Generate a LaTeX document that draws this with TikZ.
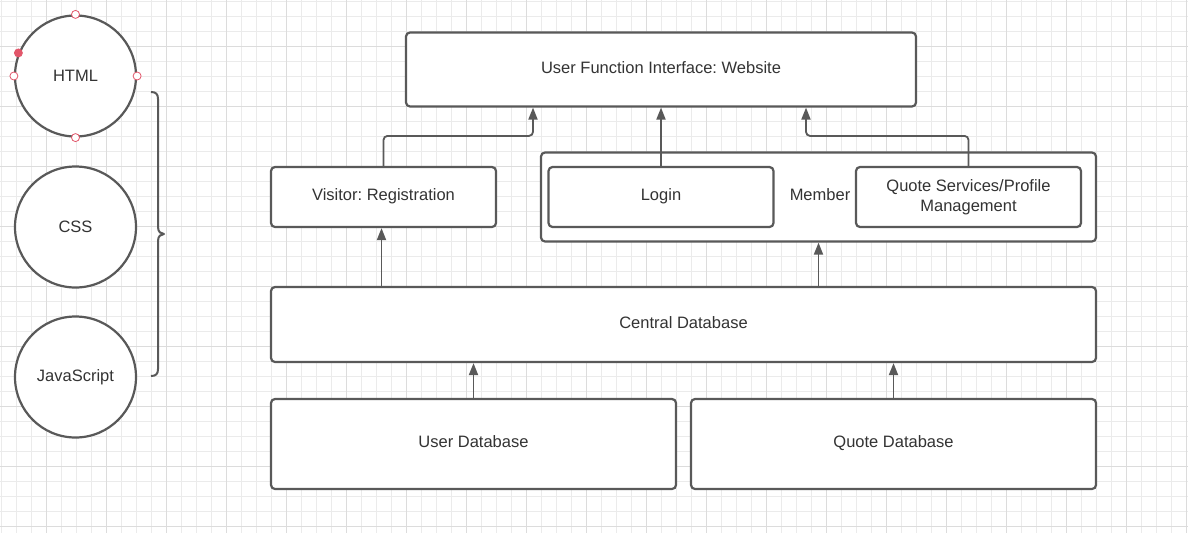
\documentclass[tikz,border=0pt]{standalone}
\usepackage{fontspec}
\setmainfont{Liberation Sans}
\usetikzlibrary{arrows.meta}
\definecolor{edgegray}{HTML}{595959}
\definecolor{textgray}{HTML}{333333}
\definecolor{gridminor}{HTML}{EBEBEB}
\definecolor{gridmajor}{HTML}{DCDCDC}
\definecolor{handlered}{HTML}{E2566A}
\frenchspacing

\begin{document}
\begin{tikzpicture}[x=1pt,y=-1pt,
    font=\fontsize{16.5}{20}\selectfont, text=textgray,
    box/.style={draw=edgegray, line width=2.2pt, rounded corners=4pt,
                fill=white, inner sep=0pt, text height=12pt, text depth=4.5pt},
    bubble/.style={draw=edgegray, line width=2.2pt, circle, fill=white,
                   minimum size=121pt, inner sep=0pt},
    handle/.style={draw=handlered, line width=0.8pt, circle, fill=white,
                   minimum size=8pt, inner sep=0pt},
    link/.style={draw=edgegray, line width=1.8pt, rounded corners=4pt,
                 -{Triangle[length=12pt,width=9pt]}}]
  \useasboundingbox (0,0) rectangle (1188,533);
  \fill[white] (0,0) rectangle (1188,533);

  % background grid
  \foreach \i in {0,...,79}
    \draw[gridminor, line width=0.8pt] ({1.7+15*\i},0) -- ({1.7+15*\i},533);
  \foreach \i in {0,...,35}
    \draw[gridminor, line width=0.8pt] (0,{1.7+15*\i}) -- (1188,{1.7+15*\i});
  \foreach \i in {0,...,19}
    \draw[gridmajor, line width=1pt] ({46.7+60*\i},0) -- ({46.7+60*\i},533);
  \foreach \i in {0,...,8}
    \draw[gridmajor, line width=1pt] (0,{46.7+60*\i}) -- (1188,{46.7+60*\i});

  % languages
  \node[bubble] (html) at (75.5,76) {HTML};
  \node[bubble] (css) at (75.5,227) {CSS};
  \node[bubble] (js) at (75.5,377) {JavaScript};

  \node[handle] (hn) at (html.north) {};
  \node[handle] (hs) at (html.south) {};
  \node[handle] (hw) at (html.west) {};
  \node[handle] (he) at (html.east) {};
  \node[handle, fill=handlered] (hsel) at (html.158) {};

  \draw[edgegray, line width=2pt, line join=round]
        (151,92) .. controls (156,92) and (158,94) .. (158,99)
        -- (158,227) .. controls (158,232) and (161,234) .. (164,234)
        .. controls (161,234) and (158,236) .. (158,241)
        -- (158,369) .. controls (158,374) and (156,376) .. (151,376);

  % boxes
  \node[box, minimum width=510pt, minimum height=74pt] (web) at (661,69.5)
        {User Function Interface: Website};
  \node[box, minimum width=225pt, minimum height=60pt] (visitor) at (383.5,197)
        {Visitor: Registration};
  \node[box, minimum width=555pt, minimum height=89pt] (member) at (818.5,197) {};
  \node[box, minimum width=225pt, minimum height=60pt] (login) at (661,197)
        {Login};
  \node[box, minimum width=225pt, minimum height=60pt, align=center,
        text height=, text depth=] (quote)
        at (968.5,197) {Quote Services/Profile\\Management};
  \node (memberlabel) at (820,195) {Member};
  \node[box, minimum width=825pt, minimum height=75pt] (central) at (683.5,324.5)
        {Central Database};
  \node[box, minimum width=405pt, minimum height=90pt] (userdb) at (473.5,444)
        {User Database};
  \node[box, minimum width=405pt, minimum height=90pt] (quotedb) at (893.5,444)
        {Quote Database};

  % connectors
  \draw[link] (visitor.north) -- ++(0,-30) -| ([xshift=-128pt]web.south);
  \draw[link] (login.north) -- (web.south);
  \draw[link] (quote.north) -- ++(0,-30) -| ([xshift=145pt]web.south);
  \draw[link] ([xshift=-2pt]visitor.south |- central.north)
        -- ([xshift=-2pt]visitor.south);
  \draw[link] (member.south |- central.north) -- (member.south);
  \draw[link] (userdb.north) -- (userdb.north |- central.south);
  \draw[link] (quotedb.north) -- (quotedb.north |- central.south);
\end{tikzpicture}
\end{document}
